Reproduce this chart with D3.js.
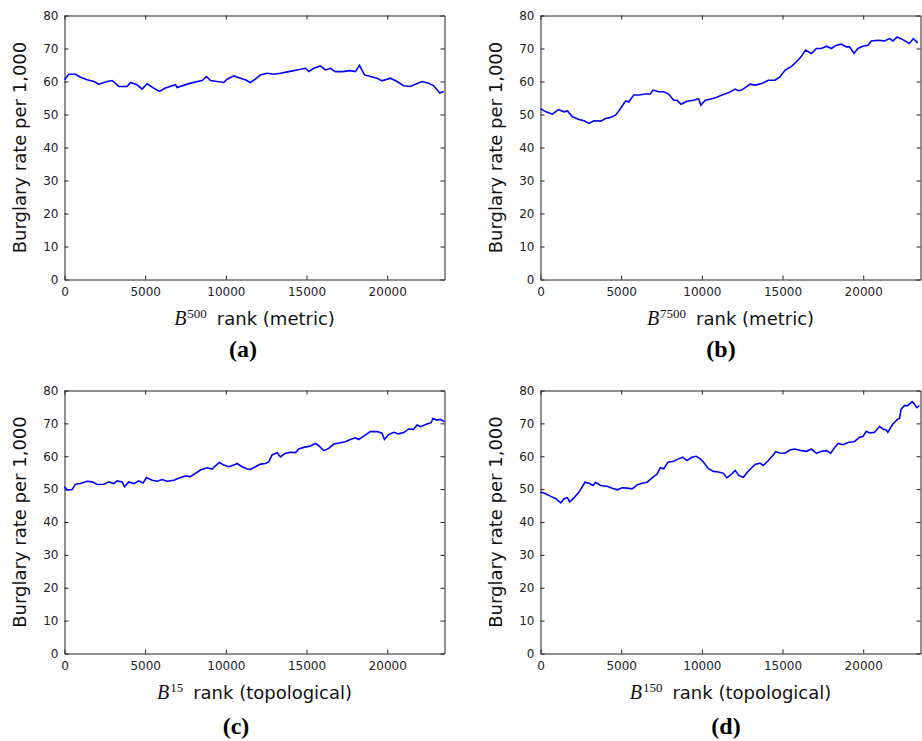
<!DOCTYPE html>
<html>
<head>
<meta charset="utf-8">
<script src="https://cdn.jsdelivr.net/npm/d3@7"></script>
<style>
  html, body { margin: 0; padding: 0; background: #fff; }
  svg { display: block; }
</style>
</head>
<body>
<svg id="chart" width="922" height="741"></svg>
<script>
// ---------- data ----------
const xMax = 23550;
const yTicks = [0, 10, 20, 30, 40, 50, 60, 70, 80];
const xTicks = [0, 5000, 10000, 15000, 20000];
const yLabel = "Burglary rate per 1,000";
const superscripts = ["500", "7500", "15", "150"];
const xLabelSuffix = ["rank (metric)", "rank (metric)", "rank (topological)", "rank (topological)"];
const captions = ["(a)", "(b)", "(c)", "(d)"];

const ranksA = [0,270,680,990,1400,1820,2130,2640,2950,3370,3880,4090,4500,4810,5120,5530,5890,6260,6880,6980,7600,8220,8530,8800,9050,9460,9870,10080,10490,10900,11210,11520,11830,12140,12560,12970,13380,13900,14420,14930,15140,15450,15860,16170,16480,16790,17200,17720,18030,18280,18590,18960,19370,19680,20200,20610,21020,21440,21750,22160,22570,22880,23260,23500];
const ratesA = [60.5,62.2,62.2,61.3,60.5,60,59.2,60,60.3,58.5,58.5,59.7,59,57.7,59.3,58,57,58,59,58.2,59.2,60,60.3,61.5,60.3,60,59.7,60.7,61.7,61,60.5,59.7,60.7,62,62.5,62.2,62.5,63,63.5,64,63,64,64.7,63.5,64,63,63,63.3,63,64.9,62,61.5,61,60.2,61,60,58.7,58.5,59.2,60,59.5,58.7,56.5,57];

const ranksB = [0,330,740,1110,1460,1670,1980,2390,2700,3000,3310,3730,4030,4340,4650,4960,5270,5470,5780,6090,6500,6810,6960,7330,7640,7940,8250,8460,8710,9080,9490,9800,9940,10210,10620,10930,11240,11650,12060,12270,12470,12990,13300,13710,14120,14530,14840,15150,15560,15970,16180,16420,16790,17100,17410,17720,18030,18340,18650,18950,19160,19430,19670,19980,20290,20500,20910,21320,21630,21840,22100,22450,22860,23110,23380];
const ratesB = [51.8,50.8,50.1,51.5,50.8,51.1,49.3,48.5,48.1,47.3,48.1,48,48.8,49.1,49.8,51.8,54.1,53.8,55.9,55.9,56.2,56.2,57.4,56.9,56.9,56.2,54.3,54.3,53.1,54,54.3,54.8,52.8,54.3,54.8,55.2,55.9,56.6,57.7,57.2,57.4,59.2,58.9,59.4,60.4,60.4,61.4,63.4,64.6,66.5,67.7,69.5,68.5,70,70,70.7,70,71,71.3,70.5,70.5,68.5,70,70.7,71,72.3,72.5,72.3,73,72.3,73.5,72.7,71.5,73,71.7];

const ranksC = [0,165,475,681,991,1404,1714,2024,2437,2746,3056,3263,3572,3717,3985,4295,4605,4873,5080,5431,5741,6050,6360,6773,7186,7496,7806,8115,8425,8838,9148,9355,9602,9871,10180,10490,10697,11006,11316,11523,11832,12142,12452,12658,12865,13175,13381,13691,14001,14310,14517,14827,15240,15549,15756,16066,16375,16685,17098,17408,17718,18027,18234,18544,18957,19370,19680,19824,20092,20402,20712,21022,21331,21641,21848,22054,22467,22715,22839,23087,23293,23541];
const ratesC = [50.7,49.7,49.9,51.5,51.7,52.4,52.2,51.4,51.5,52.2,51.7,52.5,52.2,50.7,52.2,51.7,52.5,51.9,53.5,52.7,52.4,52.9,52.4,52.7,53.5,54,53.8,54.8,55.8,56.5,56.1,57.1,58.1,57.3,56.8,57.3,57.8,56.8,56.1,56,56.8,57.6,57.8,58.3,60.4,61.1,59.8,60.9,61.2,61.1,62.2,62.7,63.1,63.9,63.2,61.7,62.4,63.7,64.1,64.4,65.1,65.6,65.1,66.1,67.5,67.5,67,65.1,66.6,67.3,66.8,67.2,68.3,68.2,69.5,69,69.8,70.2,71.5,71,71.2,70.5];

const ranksD = [0,329,638,947,1255,1461,1667,1811,2079,2387,2758,3005,3252,3416,3725,4137,4445,4754,5063,5371,5680,5989,6297,6606,6915,7224,7429,7635,7903,8253,8561,8808,9076,9384,9652,9899,10105,10413,10722,11031,11340,11545,11854,12060,12307,12575,12883,13295,13604,13809,14118,14427,14571,14838,15147,15455,15764,16176,16485,16793,17102,17411,17720,17987,18234,18440,18749,19057,19469,19777,19983,20189,20395,20703,21012,21218,21424,21527,21836,22144,22247,22350,22556,22762,23030,23174,23318,23482];
const ratesD = [49.1,48.6,47.8,47.1,45.8,47.1,47.4,46.1,47.4,49.1,52.1,51.8,51.1,52.1,51.1,50.9,50.3,49.8,50.4,50.3,50.1,51.3,51.8,52.1,53.4,54.6,56.5,56.2,58.2,58.5,59.2,59.7,58.7,59.7,60,59.2,58.2,56.2,55.4,55.2,54.8,53.4,54.6,55.7,54.1,53.6,55.5,57.5,57.9,57.2,58.7,60.4,61.4,61,60.9,61.9,62.2,61.7,61.5,62.2,60.9,61.5,61.7,60.9,62.7,63.9,63.5,64.2,64.5,65.8,66,67.6,67.1,67.3,69.1,68.3,68,67.3,69.8,71.3,71.5,74.3,75.4,75.4,76.6,75.9,74.8,75.4];

const seriesRanks = [ranksA, ranksB, ranksC, ranksD];
const seriesRates = [ratesA, ratesB, ratesC, ratesD];

// ---------- layout ----------
const panels = [
  { x0: 64.5,  x1: 444.5, y0: 15.5,  y1: 279.5, capX: 243, capY: 357 },
  { x0: 540.5, x1: 920.5, y0: 15.5,  y1: 279.5, capX: 721, capY: 357 },
  { x0: 64.5,  x1: 444.5, y0: 390.5, y1: 653.5, capX: 236, capY: 734 },
  { x0: 540.5, x1: 920.5, y0: 390.5, y1: 653.5, capX: 726, capY: 734 }
];

const svg = d3.select("#chart");
const sans = "'DejaVu Sans', sans-serif";
const serif = "'Liberation Serif', 'Times New Roman', serif";
const axisColor = "#222";

panels.forEach((p, i) => {
  const x = d3.scaleLinear().domain([0, xMax]).range([p.x0, p.x1]);
  const y = d3.scaleLinear().domain([0, 80]).range([p.y1, p.y0]);
  const g = svg.append("g");

  const styleAxis = sel => {
    sel.selectAll("path.domain").attr("stroke", axisColor).attr("stroke-width", 1);
    sel.selectAll(".tick line").attr("stroke", axisColor).attr("stroke-width", 1);
    sel.selectAll(".tick text").attr("fill", axisColor)
      .style("font-family", sans).style("font-size", "12px");
  };

  g.append("g").attr("transform", `translate(0,${p.y1})`)
    .call(d3.axisBottom(x).tickValues(xTicks).tickFormat(d3.format("d"))
      .tickSizeInner(-4).tickSizeOuter(0).tickPadding(8))
    .call(styleAxis);
  g.append("g").attr("transform", `translate(0,${p.y0})`)
    .call(d3.axisTop(x).tickValues(xTicks).tickFormat("")
      .tickSizeInner(-4).tickSizeOuter(0))
    .call(styleAxis);
  g.append("g").attr("transform", `translate(${p.x0},0)`)
    .call(d3.axisLeft(y).tickValues(yTicks).tickFormat(d3.format("d"))
      .tickSizeInner(-4).tickSizeOuter(0).tickPadding(6))
    .call(styleAxis);
  g.append("g").attr("transform", `translate(${p.x1},0)`)
    .call(d3.axisRight(y).tickValues(yTicks).tickFormat("")
      .tickSizeInner(-4).tickSizeOuter(0))
    .call(styleAxis);

  const pts = seriesRanks[i].map((r, k) => [r, seriesRates[i][k]]);
  g.append("path")
    .datum(pts)
    .attr("fill", "none")
    .attr("stroke", "#0000ff")
    .attr("stroke-width", 1.6)
    .attr("d", d3.line().x(d => x(d[0])).y(d => y(d[1])));

  g.append("text")
    .attr("transform", `translate(${p.x0 - 38.5},${(p.y0 + p.y1) / 2}) rotate(-90)`)
    .attr("text-anchor", "middle")
    .style("font-family", sans).style("font-size", "18px").attr("fill", "#111")
    .text(yLabel);

  const xl = g.append("text")
    .attr("x", (p.x0 + p.x1) / 2)
    .attr("y", p.y1 + 45.5)
    .attr("text-anchor", "middle")
    .attr("fill", "#111");
  xl.append("tspan").style("font-family", serif).style("font-style", "italic")
    .style("font-size", "20px").text("B");
  xl.append("tspan").style("font-family", serif).style("font-size", "13px")
    .attr("dy", -7.5).attr("dx", 1).text(superscripts[i]);
  xl.append("tspan").style("font-family", sans).style("font-size", "18px")
    .attr("dy", 7.5).attr("dx", 10).text(xLabelSuffix[i]);

  g.append("text")
    .attr("x", p.capX).attr("y", p.capY)
    .attr("text-anchor", "middle")
    .style("font-family", serif).style("font-weight", "bold").style("font-size", "24px")
    .attr("fill", "#000")
    .text(captions[i]);
});
</script>
</body>
</html>
